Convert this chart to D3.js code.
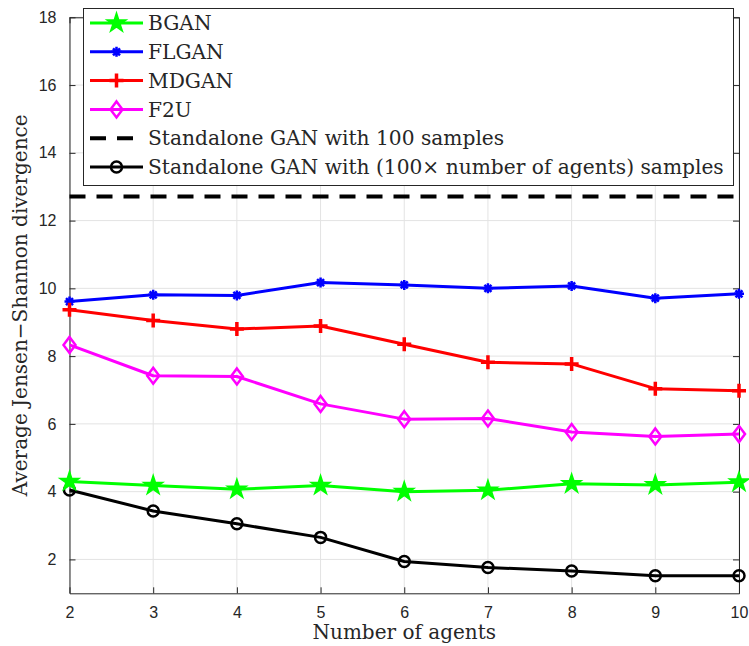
<!DOCTYPE html>
<html>
<head>
<meta charset="utf-8">
<script src="https://cdn.jsdelivr.net/npm/d3@7"></script>
<style>
  body { margin: 0; background: #fff; }
  svg { display: block; }
</style>
</head>
<body>
<svg id="chart" width="749" height="646"></svg>
<script>
// Number of agents on the x axis
const agents = [2, 3, 4, 5, 6, 7, 8, 9, 10];

// Average Jensen–Shannon divergence per method
const bgan   = [4.30, 4.18, 4.07, 4.18, 4.00, 4.04, 4.23, 4.20, 4.28];
const flgan  = [9.61, 9.81, 9.79, 10.17, 10.10, 10.00, 10.07, 9.71, 9.84];
const mdgan  = [9.37, 9.05, 8.80, 8.89, 8.35, 7.82, 7.77, 7.04, 6.98];
const f2u    = [8.33, 7.42, 7.40, 6.59, 6.14, 6.16, 5.76, 5.63, 5.70];
const standaloneScaled = [4.05, 3.43, 3.05, 2.65, 1.94, 1.76, 1.66, 1.52, 1.52];
const standalone100 = 12.71;

const yTicks = [2, 4, 6, 8, 10, 12, 14, 16, 18];
const xTicks = agents;

const legendLabels = [
  "BGAN",
  "FLGAN",
  "MDGAN",
  "F2U",
  "Standalone GAN with 100 samples",
  "Standalone GAN with (100\u00d7 number of agents) samples"
];

const svg = d3.select("#chart");
const margin = { left: 69.5, right: 10, top: 17.3, bottom: 52.7 };
const W = 749, H = 646;
const x = d3.scaleLinear().domain([2, 10]).range([margin.left, W - margin.right]);
const y = d3.scaleLinear().domain([1, 18]).range([H - margin.bottom, margin.top]);

const axisColor = "#262626";
const tickFont = "'Liberation Sans', Arial, sans-serif";
const serif = "'DejaVu Serif', serif";

// grid
const grid = svg.append("g").attr("stroke", "#e3e3e3").attr("stroke-width", 1);
xTicks.forEach(t => grid.append("line")
  .attr("x1", x(t)).attr("x2", x(t)).attr("y1", y(1)).attr("y2", y(18)));
yTicks.forEach(t => grid.append("line")
  .attr("x1", x(2)).attr("x2", x(10)).attr("y1", y(t)).attr("y2", y(t)));

// axes (box with inward ticks)
const axisStyle = g => {
  g.selectAll("path").attr("stroke", axisColor);
  g.selectAll("line").attr("stroke", axisColor);
  g.selectAll("text").attr("fill", axisColor).style("font-family", tickFont).style("font-size", "16px");
};
svg.append("g").attr("transform", `translate(0,${y(1)})`)
  .call(d3.axisBottom(x).tickValues(xTicks).tickSizeInner(-6).tickSizeOuter(0).tickPadding(13).tickFormat(d3.format("d")))
  .call(axisStyle);
svg.append("g").attr("transform", `translate(0,${y(18)})`)
  .call(d3.axisTop(x).tickValues(xTicks).tickSizeInner(-6).tickSizeOuter(0).tickFormat(""))
  .call(axisStyle);
svg.append("g").attr("transform", `translate(${x(2)},0)`)
  .call(d3.axisLeft(y).tickValues(yTicks).tickSizeInner(-6).tickSizeOuter(0).tickPadding(13).tickFormat(d3.format("d")))
  .call(axisStyle);
svg.append("g").attr("transform", `translate(${x(10)},0)`)
  .call(d3.axisRight(y).tickValues(yTicks).tickSizeInner(-6).tickSizeOuter(0).tickFormat(""))
  .call(axisStyle);

// dashed reference line
svg.append("line")
  .attr("x1", x(2)).attr("x2", x(10))
  .attr("y1", y(standalone100)).attr("y2", y(standalone100))
  .attr("stroke", "#000").attr("stroke-width", 4).attr("stroke-dasharray", "16,11");

// marker painters
function star(g, cx, cy, color) {
  const R = 10, r = R * 0.38, pts = [];
  for (let i = 0; i < 10; i++) {
    const a = -Math.PI / 2 + i * Math.PI / 5;
    const rr = i % 2 === 0 ? R : r;
    pts.push([cx + rr * Math.cos(a), cy + rr * Math.sin(a)]);
  }
  g.append("polygon").attr("points", pts.map(p => p.join(",")).join(" "))
    .attr("fill", color).attr("stroke", color).attr("stroke-width", 1.5);
}
function asterisk(g, cx, cy, color) {
  const s = 5;
  g.append("path").attr("stroke", color).attr("stroke-width", 2.5).attr("fill", "none")
    .attr("d", `M${cx - s},${cy}H${cx + s}M${cx},${cy - s}V${cy + s}` +
      `M${cx - s * 0.7},${cy - s * 0.7}L${cx + s * 0.7},${cy + s * 0.7}` +
      `M${cx - s * 0.7},${cy + s * 0.7}L${cx + s * 0.7},${cy - s * 0.7}`);
}
function plus(g, cx, cy, color) {
  const s = 7;
  g.append("path").attr("stroke", color).attr("stroke-width", 3.5).attr("fill", "none")
    .attr("d", `M${cx - s},${cy}H${cx + s}M${cx},${cy - s}V${cy + s}`);
}
function diamond(g, cx, cy, color) {
  const s = 8;
  g.append("path").attr("stroke", color).attr("stroke-width", 2.5).attr("fill", "none")
    .attr("d", `M${cx},${cy - s}L${cx + s * 0.75},${cy}L${cx},${cy + s}L${cx - s * 0.75},${cy}Z`);
}
function circle(g, cx, cy, color) {
  g.append("circle").attr("cx", cx).attr("cy", cy).attr("r", 5.5)
    .attr("fill", "none").attr("stroke", color).attr("stroke-width", 2.5);
}

const seriesList = [
  { values: standaloneScaled, color: "#000000", marker: circle },
  { values: bgan, color: "#00ff00", marker: star },
  { values: flgan, color: "#0000ff", marker: asterisk },
  { values: mdgan, color: "#ff0000", marker: plus },
  { values: f2u, color: "#ff00ff", marker: diamond }
];

const line = d3.line().x((d, i) => x(agents[i])).y(d => y(d));
seriesList.forEach(s => {
  const g = svg.append("g");
  g.append("path").datum(s.values).attr("d", line)
    .attr("fill", "none").attr("stroke", s.color).attr("stroke-width", 3)
    .attr("stroke-linejoin", "round");
  s.values.forEach((v, i) => s.marker(g, x(agents[i]), y(v), s.color));
});

// legend
const lg = svg.append("g");
lg.append("rect").attr("x", 83.5).attr("y", 8.5).attr("width", 650).attr("height", 177)
  .attr("fill", "#fff").attr("stroke", axisColor).attr("stroke-width", 1);
const legendItems = [
  { color: "#00ff00", marker: star },
  { color: "#0000ff", marker: asterisk },
  { color: "#ff0000", marker: plus },
  { color: "#ff00ff", marker: diamond },
  { color: "#000000", marker: null, dashed: true },
  { color: "#000000", marker: circle }
];
legendItems.forEach((it, i) => {
  const cy = 23 + i * 28.8;
  const l = lg.append("line").attr("x1", 90).attr("x2", 143).attr("y1", cy).attr("y2", cy)
    .attr("stroke", it.color).attr("stroke-width", it.dashed ? 4 : 3);
  if (it.dashed) l.attr("stroke-dasharray", "16,11");
  if (it.marker) it.marker(lg, 116.5, cy, it.color);
  lg.append("text").attr("x", 148).attr("y", cy).attr("dy", "0.36em")
    .style("font-family", serif).style("font-size", "20.2px").attr("fill", "#262626")
    .text(legendLabels[i]);
});

// axis titles
svg.append("text").attr("x", (x(2) + x(10)) / 2).attr("y", 639)
  .attr("text-anchor", "middle").style("font-family", serif).style("font-size", "20px")
  .attr("fill", "#262626").text("Number of agents");
svg.append("text").attr("transform", `translate(27,${(y(1) + y(18)) / 2}) rotate(-90)`)
  .attr("text-anchor", "middle").style("font-family", serif).style("font-size", "20px")
  .attr("fill", "#262626").text("Average Jensen\u2212Shannon divergence");
</script>
</body>
</html>
